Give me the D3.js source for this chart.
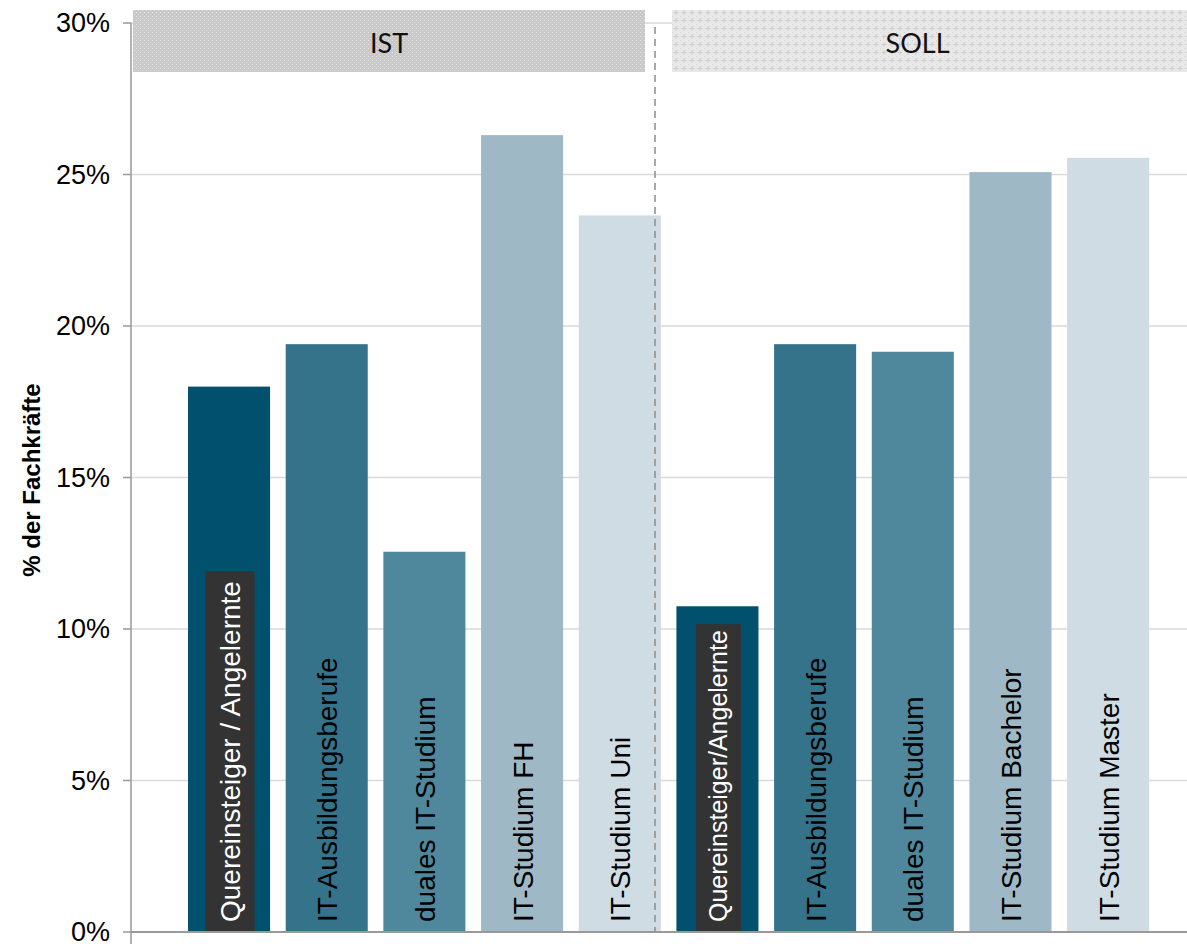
<!DOCTYPE html>
<html><head><meta charset="utf-8">
<script src="https://cdn.jsdelivr.net/npm/d3@7"></script>
<style>body{margin:0;background:#fff}svg{display:block}</style>
</head><body>
<svg id="c" width="1187" height="944"></svg>
<script>
const categories = ["Quereinsteiger / Angelernte","IT-Ausbildungsberufe","duales IT-Studium","IT-Studium FH","IT-Studium Uni",
  "Quereinsteiger/Angelernte","IT-Ausbildungsberufe ","duales IT-Studium ","IT-Studium Bachelor","IT-Studium Master"];
const values = [18.0, 19.4, 12.55, 26.3, 23.65, 10.75, 19.4, 19.15, 25.08, 25.55];
const groups = ["IST","IST","IST","IST","IST","SOLL","SOLL","SOLL","SOLL","SOLL"];
const colors = ["#01506e","#35738b","#4f889c","#9eb9c5","#cfdce3","#01506e","#35738b","#4f889c","#9eb9c5","#cfdce3"];
const yTicks = [0,5,10,15,20,25,30];
const groupLabels = ["IST","SOLL"];

const svg = d3.select("#c");
const y = d3.scaleLinear().domain([0,30]).range([932,23]);
const x = d3.scaleBand().domain(d3.range(categories.length)).range([180.2,1157]).paddingInner(0.16).paddingOuter(0.08);

const defs = svg.append("defs");
const p1 = defs.append("pattern").attr("id","pIST").attr("width",4).attr("height",4).attr("patternUnits","userSpaceOnUse");
p1.append("rect").attr("width",4).attr("height",4).attr("fill","#c9c9c9");
p1.append("rect").attr("x",0).attr("y",0).attr("width",1).attr("height",1).attr("fill","#e4e4e4");
p1.append("rect").attr("x",2).attr("y",2).attr("width",1).attr("height",1).attr("fill","#dcdcdc");
const p2 = defs.append("pattern").attr("id","pSOLL").attr("width",8).attr("height",8).attr("patternUnits","userSpaceOnUse");
p2.append("rect").attr("width",8).attr("height",8).attr("fill","#e8e8e8");
p2.append("path").attr("d","M4,2V7M1.5,4.5H6.5").attr("stroke","#cdcdcd").attr("stroke-width",1);
p2.append("rect").attr("x",0).attr("y",0).attr("width",1).attr("height",1).attr("fill","#d4d4d4");

// gridlines
svg.append("g").selectAll("line").data(yTicks.filter(d=>d>0)).join("line")
  .attr("x1",131).attr("x2",1187).attr("y1",d=>y(d)).attr("y2",d=>y(d))
  .attr("stroke","#d9d9d9").attr("stroke-width",1.3);

// header bands
const bandX = {IST:[133,645], SOLL:[672,1187]};
svg.append("g").selectAll("rect").data(groupLabels).join("rect")
  .attr("x",d=>bandX[d][0]).attr("width",d=>bandX[d][1]-bandX[d][0])
  .attr("y",10).attr("height",62).attr("fill",d=>"url(#p"+d+")");
svg.append("g").selectAll("text").data(groupLabels).join("text")
  .attr("x",d=>(bandX[d][0]+bandX[d][1])/2 + (d==="SOLL"?-12:0)).attr("y",42)
  .attr("text-anchor","middle").attr("dominant-baseline","central")
  .attr("font-family","Lato, 'Open Sans', sans-serif").attr("font-size",27).attr("fill","#111").text(d=>d);

// bars
svg.append("g").selectAll("rect").data(values).join("rect")
  .attr("x",(d,i)=>x(i)).attr("width",x.bandwidth())
  .attr("y",d=>y(d)).attr("height",d=>y(0)-y(d)).attr("fill",(d,i)=>colors[i]);

// separator
svg.append("line").attr("x1",655).attr("x2",655).attr("y1",27).attr("y2",932)
  .attr("stroke","#8c8c8c").attr("stroke-width",1.5).attr("stroke-dasharray","7,5");

// labels
const lab = svg.append("g");
categories.forEach((c,i)=>{
  const cx = x(i)+x.bandwidth()/2 + 1;
  const dark = (i===0||i===5);
  const fs = i===5 ? 25 : 28;
  const g = lab.append("g").attr("transform",`translate(${cx},922) rotate(-90)`);
  let boxSel;
  if (dark) boxSel = g.append("rect").attr("fill","#333333");
  const t = g.append("text").attr("x",0).attr("y",0).attr("dominant-baseline","central")
    .attr("font-family","'Liberation Sans', Arial, sans-serif").attr("font-size",fs)
    .attr("fill",dark?"#fff":"#000").text(c.trim());
  if (dark) {
    const L = t.node().getComputedTextLength();
    const w = i===0 ? 49 : 45;
    boxSel.attr("x",-10).attr("y",-w/2).attr("width",L+10+(i===0?10:6)).attr("height",w);
  }
});

// y axis
svg.append("line").attr("x1",131).attr("x2",131).attr("y1",23).attr("y2",944).attr("stroke","#999").attr("stroke-width",1.5);
svg.append("line").attr("x1",131).attr("x2",1187).attr("y1",932).attr("y2",932).attr("stroke","#999").attr("stroke-width",2);
const ax = svg.append("g");
ax.selectAll("line").data(yTicks).join("line").attr("x1",123).attr("x2",131).attr("y1",d=>y(d)).attr("y2",d=>y(d)).attr("stroke","#999").attr("stroke-width",1.5);
ax.selectAll("text").data(yTicks).join("text").attr("x",110).attr("y",d=>y(d)).attr("text-anchor","end")
  .attr("dominant-baseline","central").attr("font-family","'Liberation Sans', Arial, sans-serif").attr("font-size",27)
  .attr("fill","#000").text(d=>d+"%");

svg.append("text").attr("transform","translate(31,480) rotate(-90)").attr("text-anchor","middle")
  .attr("dominant-baseline","central").attr("font-family","'Liberation Sans', Arial, sans-serif")
  .attr("font-weight","bold").attr("font-size",24).text("% der Fachkräfte");
</script>
</body></html>
